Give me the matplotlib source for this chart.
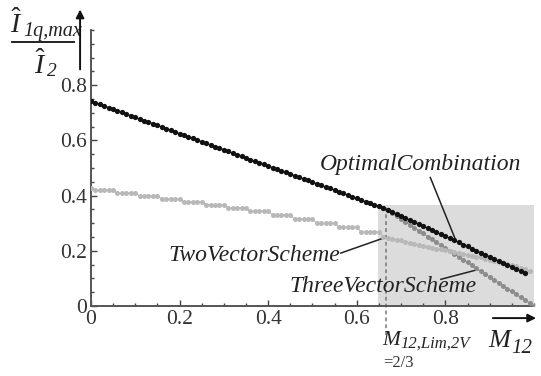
import numpy as np
import matplotlib
matplotlib.use("Agg")
import matplotlib.pyplot as plt
from matplotlib.ticker import MultipleLocator

plt.rcParams["font.family"] = ["Liberation Serif", "DejaVu Serif"]
plt.rcParams["mathtext.fontset"] = "custom"
plt.rcParams["mathtext.rm"] = "Liberation Serif"
plt.rcParams["mathtext.it"] = "Liberation Serif:italic"

# --- data (modulation index M12 -> I1q,max / I2) ---
x_opt = [round(0.01 * i, 2) for i in range(99)]
y_opt = [0.743, 0.737, 0.731, 0.725, 0.719, 0.714, 0.708, 0.702, 0.696, 0.690,
         0.684, 0.678, 0.672, 0.667, 0.661, 0.655, 0.649, 0.643, 0.637, 0.631,
         0.625, 0.620, 0.614, 0.608, 0.602, 0.596, 0.590, 0.584, 0.578, 0.573,
         0.567, 0.561, 0.555, 0.549, 0.543, 0.537, 0.531, 0.525, 0.520, 0.514,
         0.508, 0.502, 0.496, 0.490, 0.484, 0.478, 0.473, 0.467, 0.461, 0.455,
         0.449, 0.443, 0.437, 0.431, 0.426, 0.420, 0.414, 0.408, 0.402, 0.396,
         0.390, 0.384, 0.378, 0.373, 0.367, 0.361, 0.355, 0.349, 0.342, 0.334,
         0.327, 0.319, 0.312, 0.305, 0.297, 0.290, 0.282, 0.275, 0.268, 0.260,
         0.253, 0.245, 0.238, 0.231, 0.223, 0.216, 0.208, 0.201, 0.194, 0.186,
         0.179, 0.171, 0.164, 0.157, 0.149, 0.142, 0.134, 0.127, 0.120]

x_two = [round(0.01 * i, 2) for i in range(100)]
y_two = [0.428,
         0.420, 0.420, 0.420, 0.420, 0.420, 0.409, 0.409, 0.409, 0.409, 0.409,
         0.399, 0.399, 0.399, 0.399, 0.399, 0.388, 0.388, 0.388, 0.388, 0.388,
         0.378, 0.378, 0.378, 0.378, 0.378, 0.368, 0.368, 0.368, 0.368, 0.368,
         0.356, 0.356, 0.356, 0.356, 0.356, 0.344, 0.344, 0.344, 0.344, 0.344,
         0.331, 0.331, 0.331, 0.331, 0.331, 0.315, 0.315, 0.315, 0.315, 0.315,
         0.300, 0.300, 0.300, 0.300, 0.300, 0.285, 0.285, 0.285, 0.285, 0.285,
         0.268, 0.268, 0.268, 0.268, 0.268, 0.252, 0.246, 0.244, 0.241, 0.238,
         0.232, 0.228, 0.224, 0.221, 0.218, 0.214, 0.211, 0.208, 0.205, 0.202,
         0.199, 0.196, 0.193, 0.190, 0.186, 0.182, 0.179, 0.176, 0.172, 0.168,
         0.165, 0.161, 0.157, 0.153, 0.149, 0.145, 0.139, 0.133, 0.126]

x_three = [round(0.62 + 0.01 * i, 2) for i in range(39)]
y_three = [0.378, 0.373, 0.367, 0.361, 0.355, 0.347, 0.336, 0.326, 0.315, 0.305,
           0.294, 0.284, 0.273, 0.263, 0.252, 0.242, 0.231, 0.221, 0.210, 0.200,
           0.189, 0.179, 0.168, 0.158, 0.147, 0.137, 0.126, 0.116, 0.105, 0.095,
           0.084, 0.074, 0.063, 0.053, 0.042, 0.032, 0.021, 0.011, 0.000]

m_lim = 2 / 3
region_x = [0.648, 1.01]
region_top = 0.365

fig = plt.figure(figsize=(5.41, 3.76), dpi=100)
ax = fig.add_axes([0.168, 0.186, 0.819, 0.734])

ax.axvspan(region_x[0], region_x[1], ymax=region_top, color="#dcdcdc", lw=0, zorder=0)
ax.plot([m_lim, m_lim], [-0.105, region_top], ls=(0, (2.5, 2)), color="#777777",
        lw=1.1, clip_on=False, zorder=1)

ax.plot(x_three, y_three, "-o", color="#8c8c8c", lw=0.8, ms=3.6, mew=0, zorder=3)
ax.plot(x_two, y_two, "-o", color="#b8b8b8", lw=0.8, ms=3.6, mew=0, zorder=3)
ax.plot(x_opt, y_opt, "-o", color="#1a1a1a", mfc="#111111", lw=0.8, ms=3.8,
        mew=0, zorder=4)

ax.set_xlim(0, 1.0)
ax.set_ylim(0, 1.0)
ax.xaxis.set_minor_locator(MultipleLocator(0.05))
ax.yaxis.set_minor_locator(MultipleLocator(0.05))
ax.set_xticks([0, 0.2, 0.4, 0.6, 0.8])
ax.set_xticklabels(["0", "0.2", "0.4", "0.6", "0.8"])
ax.set_yticks([0, 0.2, 0.4, 0.6, 0.8])
ax.set_yticklabels(["0", "0.2", "0.4", "0.6", "0.8"])
ax.tick_params(which="both", direction="in", color="#444444", labelsize=15.5,
               labelcolor="#333333", width=1.0)
ax.tick_params(which="major", length=4, pad=3)
ax.tick_params(which="minor", length=2.5)
for s in ["top", "right"]:
    ax.spines[s].set_visible(False)
for s in ["left", "bottom"]:
    ax.spines[s].set_color("#555555")
    ax.spines[s].set_linewidth(1.4)

tfont = dict(fontsize=17, style="italic", color="#222222", ha="center", va="center")
ax.text(0.743, 0.513, "OptimalCombination", **tfont)
ax.plot([0.766, 0.821], [0.466, 0.248], color="#222222", lw=1.1)
ax.text(0.369, 0.185, "TwoVectorScheme", **tfont)
ax.plot([0.564, 0.665], [0.192, 0.249], color="#222222", lw=1.1)
ax.text(0.66, 0.07, "ThreeVectorScheme", **tfont)
ax.plot([0.79, 0.873], [0.097, 0.132], color="#222222", lw=1.1)


def sub_label(x, y, base, sub, fs, sfs, dy):
    # base letter on baseline y (figure fraction), italic subscript after it
    t = fig.text(x, y, base, fontsize=fs, style="italic", ha="left",
                 va="baseline", color="#222222")
    ax.annotate(sub, xy=(1.0, y), xycoords=(t, "figure fraction"),
                xytext=(0.5, dy), textcoords="offset points", fontsize=sfs,
                style="italic", ha="left", va="baseline", color="#222222",
                annotation_clip=False)
    return t


# axis labels with arrows
sub_label(0.706, 0.082, "M", "12,Lim,2V", 15.5, 12, -1.5)
fig.text(0.708, 0.035, "=2/3", fontsize=12, ha="left", va="center", color="#333333")
sub_label(0.903, 0.077, "M", "12", 19, 15, -4)
fig.add_artist(matplotlib.patches.FancyArrowPatch(
    (0.906, 0.154), (0.996, 0.154), transform=fig.transFigure,
    arrowstyle="-|>", mutation_scale=12, lw=1.4, color="#111111"))

sub_label(0.018, 0.912, r"$\hat{I}$", "1q,max", 20, 14.5, -2)
fig.add_artist(matplotlib.lines.Line2D([0.022, 0.137], [0.889, 0.889],
                                       transform=fig.transFigure, lw=1.4, color="#222222"))
sub_label(0.062, 0.804, r"$\hat{I}$", "2", 20, 14, -2)
fig.add_artist(matplotlib.patches.FancyArrowPatch(
    (0.148, 0.808), (0.148, 0.982), transform=fig.transFigure,
    arrowstyle="-|>", mutation_scale=12, lw=1.4, color="#111111"))

fig.savefig("out.png", dpi=100)
